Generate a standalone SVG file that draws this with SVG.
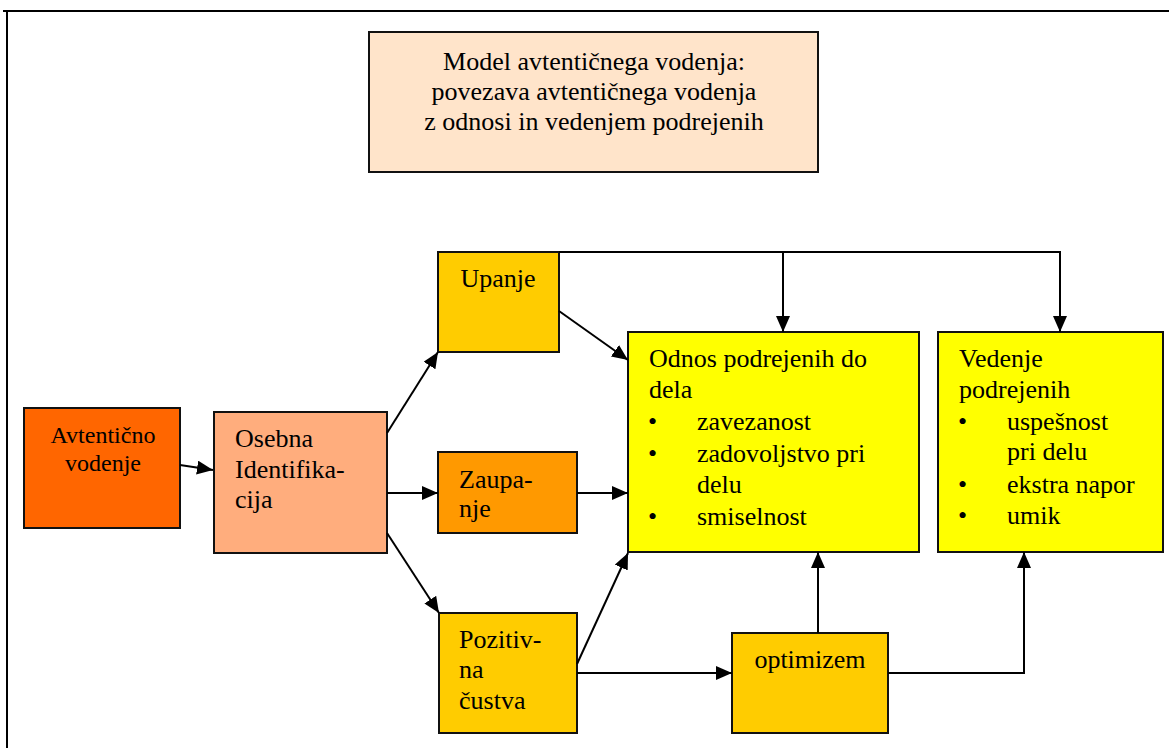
<svg xmlns="http://www.w3.org/2000/svg" width="1169" height="748" viewBox="0 0 1169 748">
  <style>
    .box { stroke: #111; stroke-width: 2; }
    text { font-family: 'Liberation Serif', 'Times New Roman', 'DejaVu Serif', serif; font-size: 26px; fill: #000; }
    .c { text-anchor: middle; }
    .ln { fill: none; stroke: #000; stroke-width: 2; }
  </style>
  <defs>
    <marker id="arr" viewBox="0 0 16 14" refX="16" refY="7" markerWidth="16" markerHeight="14" markerUnits="userSpaceOnUse" orient="auto">
      <path d="M0,0 L16,7 L0,14 Z" fill="#000"/>
    </marker>
  </defs>

  <rect width="1169" height="748" fill="#fff"/>

  <!-- page frame -->
  <g id="frame">
    <line x1="3" y1="11" x2="1169" y2="11" stroke="#000" stroke-width="2"/>
    <line x1="7" y1="11" x2="7" y2="748" stroke="#000" stroke-width="2"/>
  </g>

  <g font-family="Liberation Serif, serif">
  <g id="title">
    <rect class="box" x="369" y="32" width="449" height="140" fill="#FFE4CA"/>
    <text class="c" x="594" y="70">Model avtentičnega vodenja:</text>
    <text class="c" x="594" y="100">povezava avtentičnega vodenja</text>
    <text class="c" x="594" y="130">z odnosi in vedenjem podrejenih</text>
  </g>

  <g id="avtenticno">
    <rect class="box" x="24" y="408" width="156" height="120" fill="#FF6600"/>
    <text class="c" x="103" y="443" style="font-size:24px">Avtentično</text>
    <text class="c" x="103" y="471" style="font-size:24px">vodenje</text>
  </g>

  <g id="osebna">
    <rect class="box" x="214" y="412" width="173" height="141" fill="#FFAD7D"/>
    <text x="235" y="447">Osebna</text>
    <text x="235" y="478">Identifika-</text>
    <text x="235" y="508">cija</text>
  </g>

  <g id="upanje">
    <rect class="box" x="438" y="252" width="121" height="100" fill="#FFCC00"/>
    <text class="c" x="498" y="287">Upanje</text>
  </g>

  <g id="zaupanje">
    <rect class="box" x="438" y="452" width="139" height="81" fill="#FF9900"/>
    <text x="459" y="488">Zaupa-</text>
    <text x="459" y="517">nje</text>
  </g>

  <g id="pozitivna">
    <rect class="box" x="439" y="613" width="138" height="120" fill="#FFCC00"/>
    <text x="459" y="648">Pozitiv-</text>
    <text x="459" y="678">na</text>
    <text x="459" y="709">čustva</text>
  </g>

  <g id="optimizem">
    <rect class="box" x="732" y="633" width="156" height="100" fill="#FFCC00"/>
    <text class="c" x="810" y="668">optimizem</text>
  </g>

  <g id="odnos">
    <rect class="box" x="628" y="332" width="291" height="220" fill="#FFFF00"/>
    <text x="649" y="367">Odnos podrejenih do</text>
    <text x="649" y="398">dela</text>
    <text x="648" y="430">•</text>
    <text x="697" y="430">zavezanost</text>
    <text x="648" y="462">•</text>
    <text x="697" y="462">zadovoljstvo pri</text>
    <text x="697" y="493">delu</text>
    <text x="648" y="525">•</text>
    <text x="697" y="525">smiselnost</text>
  </g>

  <g id="vedenje">
    <rect class="box" x="938" y="332" width="225" height="220" fill="#FFFF00"/>
    <text x="959" y="367">Vedenje</text>
    <text x="959" y="398">podrejenih</text>
    <text x="958" y="430">•</text>
    <text x="1007" y="430">uspešnost</text>
    <text x="1007" y="460">pri delu</text>
    <text x="958" y="493">•</text>
    <text x="1007" y="493">ekstra napor</text>
    <text x="958" y="524">•</text>
    <text x="1007" y="524">umik</text>
  </g>
  </g>

  <g id="connectors">
    <line class="ln" x1="180" y1="465" x2="213" y2="470" marker-end="url(#arr)"/>
    <line class="ln" x1="387" y1="433" x2="438" y2="352" marker-end="url(#arr)"/>
    <line class="ln" x1="387" y1="493" x2="438" y2="493" marker-end="url(#arr)"/>
    <line class="ln" x1="387" y1="533" x2="439" y2="613" marker-end="url(#arr)"/>
    <line class="ln" x1="559" y1="311" x2="628" y2="360" marker-end="url(#arr)"/>
    <line class="ln" x1="577" y1="493" x2="628" y2="493" marker-end="url(#arr)"/>
    <line class="ln" x1="577" y1="664" x2="628" y2="553" marker-end="url(#arr)"/>
    <line class="ln" x1="577" y1="673" x2="732" y2="673" marker-end="url(#arr)"/>
    <line class="ln" x1="818" y1="633" x2="818" y2="552" marker-end="url(#arr)"/>
    <polyline class="ln" points="888,673 1024,673 1024,552" marker-end="url(#arr)"/>
    <polyline class="ln" points="559,252 1060,252 1060,332" marker-end="url(#arr)"/>
    <line class="ln" x1="783" y1="252" x2="783" y2="332" marker-end="url(#arr)"/>
  </g>
</svg>
